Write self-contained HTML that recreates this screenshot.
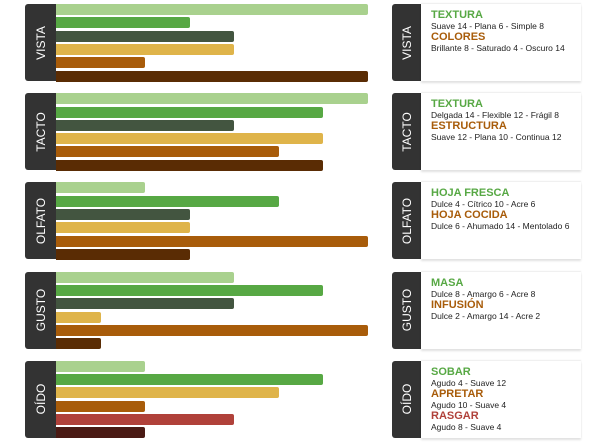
<!DOCTYPE html>
<html><head><meta charset="utf-8"><style>
body{margin:0;width:601px;height:443px;background:#fff;position:relative;overflow:hidden;font-family:"Liberation Sans",sans-serif}
.lab{position:absolute;left:25px;width:31px;background:#333;border-radius:3px 0 0 3px}
.lab span,.rlab span{position:absolute;left:50%;top:50%;transform:translate(-50%,-50%) rotate(-90deg);color:#fff;font-size:12px;white-space:nowrap}
.bar{position:absolute;left:56px;height:11px;border-radius:0 2px 2px 0}
.rlab{position:absolute;left:392px;width:29px;background:#333;border-radius:3px 0 0 3px}
.card{position:absolute;left:421px;width:160px;background:linear-gradient(90deg,#fff 70%,rgba(255,255,255,0));box-shadow:0 -1px 1px rgba(0,0,0,0.08),0 2px 2px rgba(0,0,0,0.12)}
.card div{position:absolute;left:10px;white-space:nowrap}
.t{font-weight:bold;font-size:11px}
.d{font-size:8.5px;color:#222}
</style></head><body>
<div id="chart"></div>
<script>
const groups=["VISTA","TACTO","OLFATO","GUSTO","OÍDO"];
const vista=[14,6,8,8,4,14];
const tacto=[14,12,8,12,10,12];
const olfato=[4,10,6,6,14,6];
const gusto=[8,12,8,2,14,2];
const oido=[4,12,10,4,8,4];
const maxVal=14;
const series=[vista,tacto,olfato,gusto,oido];
const palette=["#a9d18e","#57a844","#435540","#dfb44a","#a85c0a","#5a2c04"];
const paletteOido=["#a9d18e","#57a844","#dfb44a","#a85c0a","#b0413a","#4a1a14"];
const info=[
 [["TEXTURA","Suave 14 - Plana 6 - Simple 8","#57a844"],["COLORES","Brillante 8 - Saturado 4 - Oscuro 14","#a85c0a"]],
 [["TEXTURA","Delgada 14 - Flexible 12 - Frágil 8","#57a844"],["ESTRUCTURA","Suave 12 - Plana 10 - Continua 12","#a85c0a"]],
 [["HOJA FRESCA","Dulce 4 - Cítrico 10 - Acre 6","#57a844"],["HOJA COCIDA","Dulce 6 - Ahumado 14 - Mentolado 6","#a85c0a"]],
 [["MASA","Dulce 8 - Amargo 6 - Acre 8","#57a844"],["INFUSIÓN","Dulce 2 - Amargo 14 - Acre 2","#a85c0a"]],
 [["SOBAR","Agudo 4 - Suave 12","#57a844"],["APRETAR","Agudo 10 - Suave 4","#a85c0a"],["RASGAR","Agudo 8 - Suave 4","#b0413a"]]
];
const root=document.getElementById('chart');
const x=v=>v/maxVal*312;
groups.forEach((g,gi)=>{
 const top=4+gi*89.2;
 const lab=document.createElement('div');lab.className='lab';
 
 
 lab.style.top=top+'px';lab.style.height='77px';
 lab.innerHTML='<span>'+g+'</span>';root.appendChild(lab);
 const cols=gi===4?paletteOido:palette;
 series[gi].forEach((v,i)=>{
  const b=document.createElement('div');b.className='bar';
  
  
  b.style.top=(top+i*13.3)+'px';b.style.width=x(v)+'px';b.style.background=cols[i];
  root.appendChild(b);
 });
 const rl=document.createElement('div');rl.className='rlab';
 
 
 rl.style.top=top+'px';rl.style.height='77px';
 rl.innerHTML='<span>'+g+'</span>';root.appendChild(rl);
 const c=document.createElement('div');c.className='card';
 
 
 c.style.top=top+'px';c.style.height='77px';
 info[gi].forEach((it,k)=>{
  const t=document.createElement('div');t.className='t';
  
  
  t.style.top=(5+k*22)+'px';t.style.color=it[2];t.textContent=it[0];c.appendChild(t);
  const d=document.createElement('div');d.className='d';
  
  
  d.style.top=(17+k*22)+'px';d.textContent=it[1];c.appendChild(d);
 });
 root.appendChild(c);
});
</script>
</body></html>
